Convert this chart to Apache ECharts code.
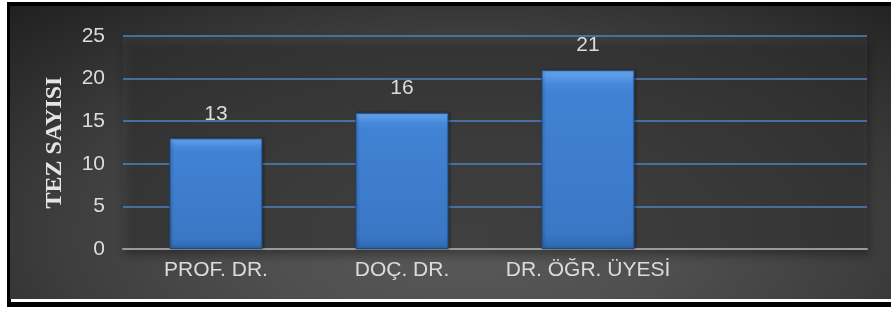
<!DOCTYPE html>
<html>
<head>
<meta charset="utf-8">
<script src="https://cdn.jsdelivr.net/npm/echarts@6/dist/echarts.min.js"></script>
<style>
  html, body { margin: 0; padding: 0; background: #fff; }
  .frame { position: absolute; left: 7px; top: 2px; width: 884px; height: 305px; background: #000; }
  .panel { position: absolute; left: 10px; top: 6px; width: 881px; height: 293px;
    background: radial-gradient(ellipse 78% 115% at 52% 78%, #5a5a5a 0%, #4f4f4f 30%, #3d3d3d 60%, #282828 85%, #1c1c1c 100%); }
  .rule { position: absolute; left: 11px; top: 299px; width: 880px; height: 3px; background: #fff; }
  #chart { position: absolute; left: 0; top: 0; width: 891px; height: 311px; }
</style>
</head>
<body>
<div class="frame"></div>
<div class="panel"></div>
<div class="rule"></div>
<div id="chart"></div>
<script>
// unvanlara göre tez sayısı
var categories = ['PROF. DR.', 'DOÇ. DR.', 'DR. ÖĞR. ÜYESİ', ''];
var tezSayisi = [13, 16, 21, null];
var yTicks = [0, 5, 10, 15, 20, 25];

var chart = echarts.init(document.getElementById('chart'));
var textColor = '#dcdcdc';
var option = {
    backgroundColor: 'transparent',
    animation: false,
    grid: {
        left: 123, right: 24, top: 36, bottom: 62,
        show: true,
        borderWidth: 0,
        backgroundColor: 'rgba(70,70,70,0.35)',
        shadowColor: 'rgba(0,0,0,0.95)',
        shadowBlur: 9,
        shadowOffsetX: 2,
        shadowOffsetY: 6
    },
    xAxis: {
        type: 'category',
        data: categories,
        axisTick: { show: false },
        axisLine: { lineStyle: { color: '#9a9a9a', width: 2 } },
        axisLabel: {
            color: textColor,
            fontFamily: 'Liberation Sans',
            fontSize: 21,
            margin: 11,
            interval: 0
        }
    },
    yAxis: {
        type: 'value',
        min: yTicks[0],
        max: yTicks[yTicks.length - 1],
        interval: 5,
        name: 'TEZ SAYISI',
        nameLocation: 'middle',
        nameRotate: 90,
        nameGap: 56,
        nameTextStyle: {
            color: '#e4e4e4',
            fontFamily: 'Liberation Serif',
            fontWeight: 'bold',
            fontSize: 24
        },
        axisLine: { show: false },
        axisTick: { show: false },
        axisLabel: {
            color: textColor,
            fontFamily: 'Liberation Sans',
            fontSize: 21,
            margin: 18
        },
        splitLine: { lineStyle: { color: '#4f81c4', width: 1.6 } }
    },
    series: [{
        type: 'bar',
        data: tezSayisi,
        barWidth: '50%',
        itemStyle: {
            color: {
                type: 'linear', x: 0, y: 0, x2: 0, y2: 1,
                colorStops: [
                    { offset: 0, color: '#6aa8ee' },
                    { offset: 0.07, color: '#4a8ade' },
                    { offset: 0.12, color: '#4282d4' },
                    { offset: 0.9, color: '#3a78c6' },
                    { offset: 1, color: '#2f68b0' }
                ]
            },
            borderColor: '#1e4a80',
            borderWidth: 1,
            shadowColor: 'rgba(0,0,0,0.4)',
            shadowBlur: 3,
            shadowOffsetX: 1
        },
        label: {
            show: true,
            position: 'top',
            distance: 14,
            color: textColor,
            fontFamily: 'Liberation Sans',
            fontSize: 21
        }
    }]
};
chart.setOption(option);
window.onresize = function () {
    chart.resize();
};
</script>
</body>
</html>
